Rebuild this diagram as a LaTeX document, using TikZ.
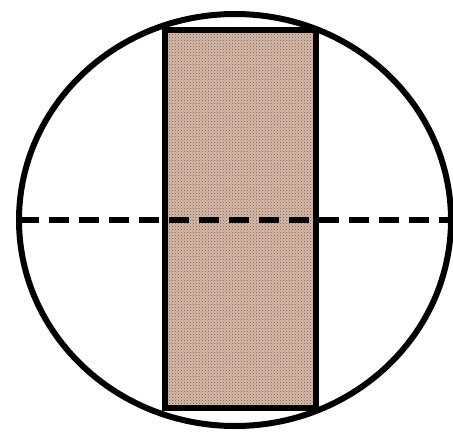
\documentclass[tikz,border=0pt]{standalone}
\usepackage{tikz}
\usetikzlibrary{calc, patterns}
\definecolor{rodfill}{RGB}{218,184,164}
\begin{document}
\begin{tikzpicture}[x=1pt,y=-1pt]
            \useasboundingbox (0,0) rectangle (453,432);
            \coordinate (c) at (235,220); %中心
            \coordinate (rtl) at (165,30); %左上
            \coordinate (rbr) at (316,408); %右下
            \fill[rodfill] (rtl) rectangle (rbr); %標尺
            \fill[pattern=crosshatch dots, pattern color=black!60] (rtl) rectangle (rbr);
            \draw[line width=5.5pt,dash pattern=on 20pt off 10pt] (19,220) --(453,220); %横線
            \draw[line width=6.5pt] (rtl) rectangle (rbr);
            \draw[line width=6pt] (c) ellipse (216 and 206); %視野
        \end{tikzpicture}
\end{document}
